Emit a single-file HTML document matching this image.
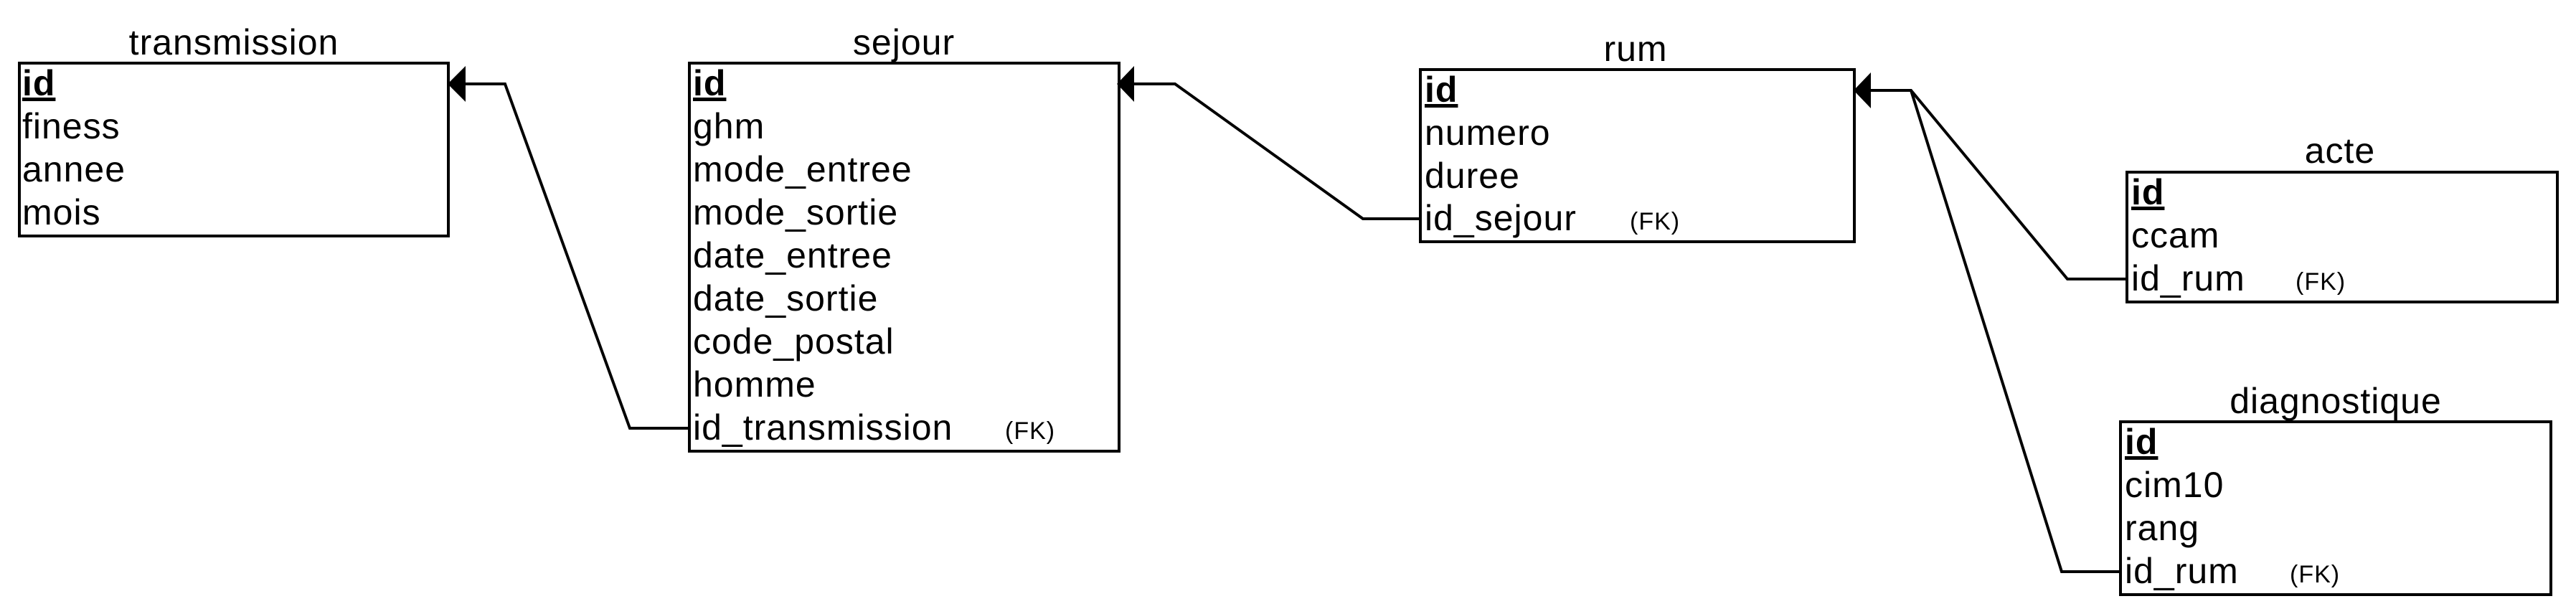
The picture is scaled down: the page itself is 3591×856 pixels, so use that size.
<!DOCTYPE html>
<html><head><meta charset="utf-8"><style>
html,body{margin:0;padding:0;background:#fff;}
svg{display:block;}
text{font-family:"Liberation Sans",Arial,sans-serif;fill:#000;}
.t{font-size:50px;letter-spacing:1px;}
.fk{font-size:34px;letter-spacing:1px;}
.b{stroke:#000;stroke-width:4;fill:none;}
.c{stroke:#000;stroke-width:4;fill:none;}
</style></head><body>
<svg width="3591" height="856" viewBox="0 0 3591 856" xmlns="http://www.w3.org/2000/svg">
<!-- transmission -->
<text class="t" x="326" y="76" text-anchor="middle">transmission</text>
<rect class="b" x="27" y="88" width="598" height="241"/>
<text class="t" x="31" y="133" font-weight="bold" text-decoration="underline">id</text>
<text class="t" x="31" y="193">finess</text>
<text class="t" x="31" y="253">annee</text>
<text class="t" x="31" y="313">mois</text>

<!-- sejour -->
<text class="t" x="1260" y="76" text-anchor="middle">sejour</text>
<rect class="b" x="961" y="88" width="599" height="541"/>
<text class="t" x="966" y="133" font-weight="bold" text-decoration="underline">id</text>
<text class="t" x="966" y="193">ghm</text>
<text class="t" x="966" y="253">mode_entree</text>
<text class="t" x="966" y="313">mode_sortie</text>
<text class="t" x="966" y="373">date_entree</text>
<text class="t" x="966" y="433">date_sortie</text>
<text class="t" x="966" y="493">code_postal</text>
<text class="t" x="966" y="553">homme</text>
<text class="t" x="966" y="613">id_transmission</text>
<text class="fk" x="1401" y="612">(FK)</text>

<!-- rum -->
<text class="t" x="2280" y="85" text-anchor="middle">rum</text>
<rect class="b" x="1980" y="97" width="605" height="240"/>
<text class="t" x="1986" y="142" font-weight="bold" text-decoration="underline">id</text>
<text class="t" x="1986" y="202">numero</text>
<text class="t" x="1986" y="262">duree</text>
<text class="t" x="1986" y="321">id_sejour</text>
<text class="fk" x="2272" y="320">(FK)</text>

<!-- acte -->
<text class="t" x="3262" y="227" text-anchor="middle">acte</text>
<rect class="b" x="2965" y="240" width="600" height="181"/>
<text class="t" x="2971" y="285" font-weight="bold" text-decoration="underline">id</text>
<text class="t" x="2971" y="345">ccam</text>
<text class="t" x="2971" y="405">id_rum</text>
<text class="fk" x="3200" y="404">(FK)</text>

<!-- diagnostique -->
<text class="t" x="3256" y="576" text-anchor="middle">diagnostique</text>
<rect class="b" x="2956" y="588" width="600" height="241"/>
<text class="t" x="2962" y="633" font-weight="bold" text-decoration="underline">id</text>
<text class="t" x="2962" y="693">cim10</text>
<text class="t" x="2962" y="753">rang</text>
<text class="t" x="2962" y="813">id_rum</text>
<text class="fk" x="3192" y="812">(FK)</text>

<!-- connectors -->
<polyline class="c" points="961,597 878,597 704,117 645,117"/>
<polygon points="624,117 649,92 649,142" fill="#000"/>

<polyline class="c" points="1980,305 1900,305 1638,117 1578,117"/>
<polygon points="1557,117 1581,92 1581,142" fill="#000"/>

<polyline class="c" points="2965,389 2882,389 2664,126 2605,126"/>
<polyline class="c" points="2956,797 2874,797 2664,126"/>
<polygon points="2584,126 2608,101 2608,151" fill="#000"/>
</svg>
</body></html>
